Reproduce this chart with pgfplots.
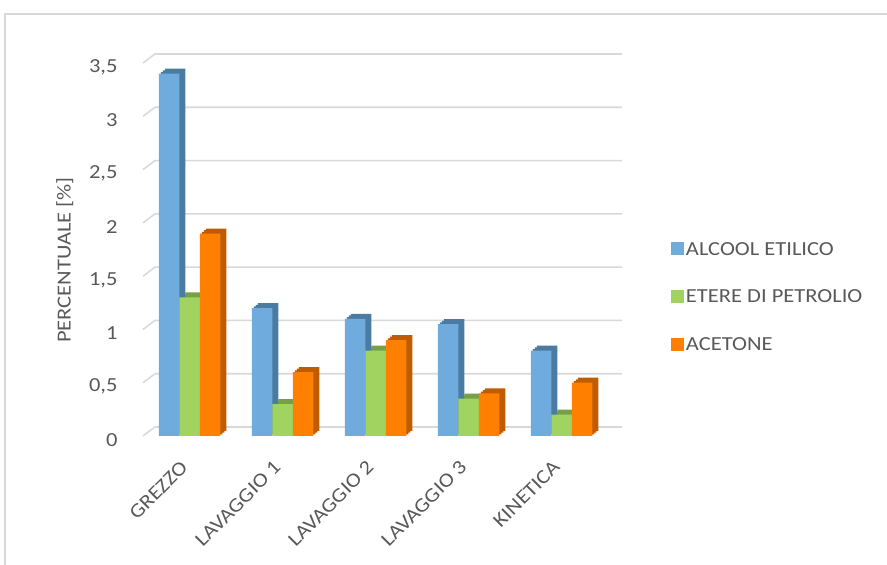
\documentclass[border=0pt]{standalone}
\usepackage{pgfplots}
\pgfplotsset{compat=1.18}
\usepackage{fontspec}
\setmainfont{Carlito}[FakeStretch=1.13]

\definecolor{txt}{RGB}{89,89,89}
\definecolor{gridc}{RGB}{217,217,217}
\definecolor{bluef}{RGB}{111,172,221}
\definecolor{blues}{RGB}{74,124,162}
\definecolor{greenf}{RGB}{160,211,96}
\definecolor{greens}{RGB}{118,160,70}
\definecolor{orangef}{RGB}{255,127,0}
\definecolor{oranges}{RGB}{192,92,0}

% percentages per sample
\pgfplotstableread{
x alcool etere acetone
0 3.40 1.30 1.90
1 1.20 0.30 0.60
2 1.10 0.80 0.90
3 1.05 0.35 0.40
4 0.80 0.20 0.50
}\data

\pgfplotsset{
  side/.style={draw=none, forget plot, xshift=#1bp, yshift=0.833*#1bp},
}

\begin{document}
\begin{tikzpicture}[x=1bp,y=1bp]
\path[use as bounding box] (0,0) rectangle (887,565);
\clip (0,0) rectangle (887,565);
% chart frame
\draw[gridc, line width=1.5bp] (5,-10) -- (5,551) -- (900,551);
% back wall gridlines with the side-wall slant
\foreach \v in {0,0.5,...,3.5} {
  \draw[gridc, line width=1.6bp] (143,{129+\v*106.571}) -- ++(12,9) -- ++(467,0);
}
\begin{axis}[
  at={(143bp,129bp)}, anchor=south west,
  scale only axis, width=465bp, height=373bp,
  xmin=-0.5, xmax=4.5, ymin=0, ymax=3.5,
  axis x line*=bottom, axis y line*=left,
  axis line style={draw=none}, major tick length=0pt,
  ytick={0,0.5,...,3.5},
  xtick={0,...,4},
  xticklabels={GREZZO,LAVAGGIO 1,LAVAGGIO 2,LAVAGGIO 3,KINETICA},
  /pgf/number format/.cd, use comma, fixed, assume math mode=true,
  /pgfplots/.cd,
  ticklabel style={font=\fontsize{20}{22}\selectfont, text=txt},
  yticklabel style={anchor=east, xshift=-22bp, yshift=-4bp},
  xticklabel style={rotate=45, anchor=north east, inner sep=0pt, xshift=-23.5bp, yshift=-9.5bp},
  ylabel={PERCENTUALE [\%]},
  ylabel style={at={(axis description cs:-0.168,0.472)}, anchor=center, font=\fontsize{20}{22}\selectfont, text=txt},
  ybar, bar width=20.5bp,
  legend style={draw=none, fill=none, at={(1.135,0.372)}, anchor=west,
    font=\fontsize{20}{22}\selectfont, text=txt, row sep=29.5bp, inner sep=0pt},
  legend cell align=left,
  legend image code/.code={\fill[#1] (0bp,-6bp) rectangle (13bp,7bp);},
]
% side and top faces
\addplot[fill=blues, bar shift=-20.5bp, side=2] table[x=x,y=alcool] {\data};
\addplot[fill=greens, bar shift=0bp, side=2] table[x=x,y=etere] {\data};
\addplot[fill=oranges, bar shift=20.5bp, side=2] table[x=x,y=acetone] {\data};
\addplot[fill=blues, bar shift=-20.5bp, side=4] table[x=x,y=alcool] {\data};
\addplot[fill=greens, bar shift=0bp, side=4] table[x=x,y=etere] {\data};
\addplot[fill=oranges, bar shift=20.5bp, side=4] table[x=x,y=acetone] {\data};
\addplot[fill=blues, bar shift=-20.5bp, side=6] table[x=x,y=alcool] {\data};
\addplot[fill=greens, bar shift=0bp, side=6] table[x=x,y=etere] {\data};
\addplot[fill=oranges, bar shift=20.5bp, side=6] table[x=x,y=acetone] {\data};
% front faces
\addplot[fill=bluef, draw=none, bar shift=-20.5bp] table[x=x,y=alcool] {\data};
\addplot[fill=greenf, draw=none, bar shift=0bp] table[x=x,y=etere] {\data};
\addplot[fill=orangef, draw=none, bar shift=20.5bp] table[x=x,y=acetone] {\data};
\legend{ALCOOL ETILICO,ETERE DI PETROLIO,ACETONE}
\end{axis}
\end{tikzpicture}
\end{document}
